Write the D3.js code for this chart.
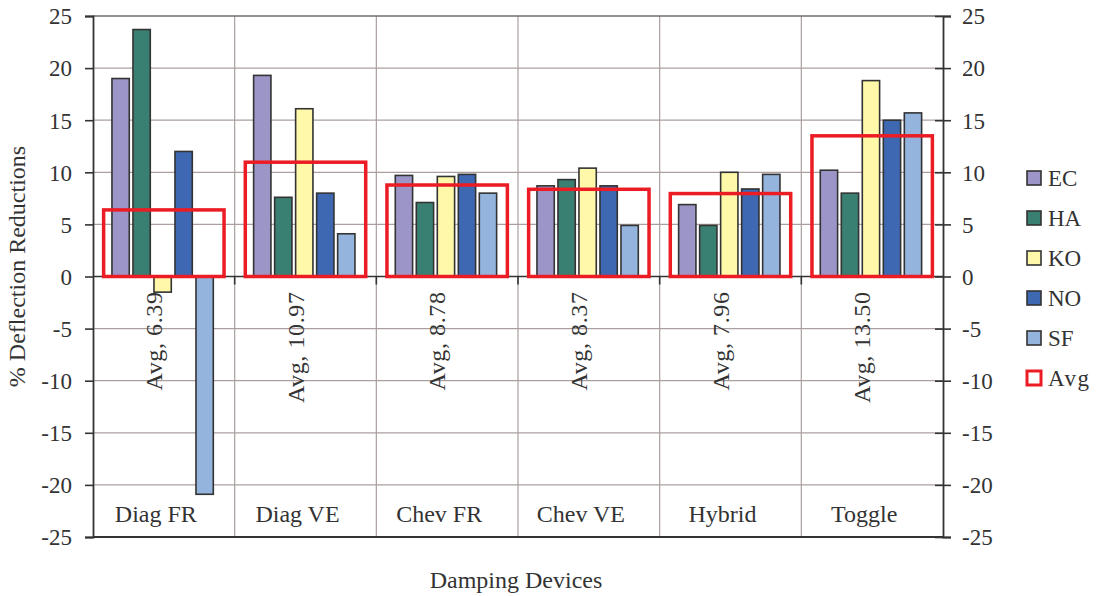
<!DOCTYPE html>
<html>
<head>
<meta charset="utf-8">
<script src="https://cdn.jsdelivr.net/npm/d3@7/dist/d3.min.js"></script>
<style>
  html, body { margin: 0; padding: 0; background: #fff; }
  svg { display: block; }
  text { font-family: "Liberation Serif", "Times New Roman", serif; fill: #333; }
</style>
</head>
<body>
<svg id="chart" width="1107" height="596"></svg>
<script>
// Damping device categories
const devices = ["Diag FR", "Diag VE", "Chev FR", "Chev VE", "Hybrid", "Toggle"];
// Records (series)
const records = ["EC", "HA", "KO", "NO", "SF"];
// % deflection reduction per record, one array per record, ordered as devices
const EC = [19.0, 19.3, 9.7, 8.7, 6.9, 10.2];
const HA = [23.7, 7.6, 7.1, 9.3, 4.9, 8.0];
const KO = [-1.5, 16.1, 9.6, 10.4, 10.0, 18.8];
const NO = [12.0, 8.0, 9.8, 8.7, 8.4, 15.0];
const SF = [-20.9, 4.1, 8.0, 4.9, 9.8, 15.7];
// Average reduction per device
const avg = [6.39, 10.97, 8.78, 8.37, 7.96, 13.50];
// Tick values
const yTicks = [-25, -20, -15, -10, -5, 0, 5, 10, 15, 20, 25];

const seriesValues = { EC, HA, KO, NO, SF };
const colors = { EC: "#9c96c8", HA: "#3a8072", KO: "#fff8a8", NO: "#3e68b2", SF: "#94b4de" };
const avgColor = "#ec1c24";

const svg = d3.select("#chart");
const plot = { left: 93, right: 943, top: 16, bottom: 537 };

const y = d3.scaleLinear().domain([-25, 25]).range([plot.bottom, plot.top]);
const x0 = d3.scaleBand().domain(devices).range([plot.left, plot.right]).padding(0);
const x1 = d3.scaleBand().domain(records).range([0, x0.bandwidth()])
  .paddingInner(0.176).paddingOuter(0.96).align(0.47);

const grid = svg.append("g");
// horizontal gridlines
grid.selectAll("line.h").data(yTicks).join("line")
  .attr("x1", plot.left).attr("x2", plot.right)
  .attr("y1", d => y(d)).attr("y2", d => y(d))
  .attr("stroke", "#ab9f9f").attr("stroke-width", 1.2);
// vertical gridlines at device boundaries
grid.selectAll("line.v").data(devices.slice(1)).join("line")
  .attr("x1", d => x0(d)).attr("x2", d => x0(d))
  .attr("y1", plot.top).attr("y2", plot.bottom)
  .attr("stroke", "#ab9f9f").attr("stroke-width", 1.2);

// frame
svg.append("line").attr("x1", plot.left).attr("x2", plot.right)
  .attr("y1", plot.top).attr("y2", plot.top).attr("stroke", "#555").attr("stroke-width", 1.2);
svg.append("line").attr("x1", plot.left).attr("x2", plot.right)
  .attr("y1", plot.bottom).attr("y2", plot.bottom).attr("stroke", "#333").attr("stroke-width", 1.8);

// bars
const rows = devices.map((d, i) => ({ device: d, vals: records.map(r => ({ rec: r, v: seriesValues[r][i] })) }));
const groups = svg.append("g").selectAll("g").data(rows).join("g")
  .attr("transform", d => `translate(${x0(d.device)},0)`);
groups.selectAll("rect").data(d => d.vals).join("rect")
  .attr("x", d => x1(d.rec))
  .attr("width", x1.bandwidth())
  .attr("y", d => y(Math.max(0, d.v)))
  .attr("height", d => Math.abs(y(d.v) - y(0)))
  .attr("fill", d => colors[d.rec])
  .attr("stroke", "#333").attr("stroke-width", 1.6);

// x axis along zero with ticks at device boundaries
const xAxisG = svg.append("g");
xAxisG.append("line").attr("x1", plot.left).attr("x2", plot.right)
  .attr("y1", y(0)).attr("y2", y(0)).attr("stroke", "#333").attr("stroke-width", 1.6);
xAxisG.selectAll("line.t").data(devices.slice(1)).join("line")
  .attr("x1", d => x0(d)).attr("x2", d => x0(d))
  .attr("y1", y(0)).attr("y2", y(0) + 8)
  .attr("stroke", "#333").attr("stroke-width", 1.6);

// average boxes
const inset = x0.bandwidth() * 0.075;
svg.append("g").selectAll("rect").data(devices).join("rect")
  .attr("x", d => x0(d) + inset)
  .attr("width", x0.bandwidth() - 2 * inset)
  .attr("y", (d, i) => y(avg[i]))
  .attr("height", (d, i) => y(0) - y(avg[i]))
  .attr("fill", "none").attr("stroke", avgColor).attr("stroke-width", 3.5);

// average labels (rotated)
svg.append("g").selectAll("text").data(devices).join("text")
  .attr("transform", d => `translate(${x0(d) + x0.bandwidth() / 2 - 2},${y(0) + 15}) rotate(-90)`)
  .attr("text-anchor", "end")
  .attr("font-size", 24)
  .attr("letter-spacing", 0.6)
  .text((d, i) => `Avg, ${avg[i].toFixed(2)}`);

// device labels near bottom
svg.append("g").selectAll("text").data(devices).join("text")
  .attr("x", d => x0(d) + x0.bandwidth() / 2 - 8)
  .attr("y", 522)
  .attr("text-anchor", "middle")
  .attr("font-size", 24)
  .text(d => d);

// tick labels use a plain hyphen for negatives
const fmt = d => String(d);
// left y axis
const yLeft = svg.append("g").attr("transform", `translate(${plot.left},0)`)
  .call(d3.axisLeft(y).tickValues(yTicks).tickSize(8).tickPadding(13).tickFormat(fmt));
// right y axis with crossing ticks
const yRight = svg.append("g").attr("transform", `translate(${plot.right},0)`)
  .call(d3.axisRight(y).tickValues(yTicks).tickSize(8).tickPadding(11).tickFormat(fmt));
yRight.selectAll(".tick line").attr("x1", -8);
[yLeft, yRight].forEach(g => {
  g.select(".domain").attr("stroke", "#333").attr("stroke-width", 1.8);
  g.selectAll(".tick line").attr("stroke", "#333").attr("stroke-width", 1.6);
  g.selectAll(".tick text").attr("font-size", 23).attr("fill", "#333")
    .attr("font-family", "Liberation Serif, serif").attr("dy", "0.34em");
});

// axis titles
svg.append("text")
  .attr("transform", `translate(25,${(plot.top + plot.bottom) / 2 - 10}) rotate(-90)`)
  .attr("text-anchor", "middle").attr("font-size", 24)
  .text("% Deflection Reductions");
svg.append("text")
  .attr("x", (plot.left + plot.right) / 2 - 2).attr("y", 588)
  .attr("text-anchor", "middle").attr("font-size", 24)
  .text("Damping Devices");

// legend
const legendItems = records.map(r => ({ name: r, fill: colors[r], stroke: "#333", sw: 1.6 }))
  .concat([{ name: "Avg", fill: "#fff", stroke: avgColor, sw: 3 }]);
const legend = svg.append("g").attr("transform", "translate(1027,178)");
const li = legend.selectAll("g").data(legendItems).join("g")
  .attr("transform", (d, i) => `translate(0,${i * 40})`);
li.append("rect").attr("x", 0).attr("y", -7).attr("width", 14).attr("height", 14)
  .attr("fill", d => d.fill).attr("stroke", d => d.stroke).attr("stroke-width", d => d.sw);
li.append("text").attr("x", 21).attr("y", 0).attr("dy", "0.35em")
  .attr("font-size", 23)
  .attr("letter-spacing", d => d.name === "Avg" ? 1.5 : 0)
  .text(d => d.name);
</script>
</body>
</html>
